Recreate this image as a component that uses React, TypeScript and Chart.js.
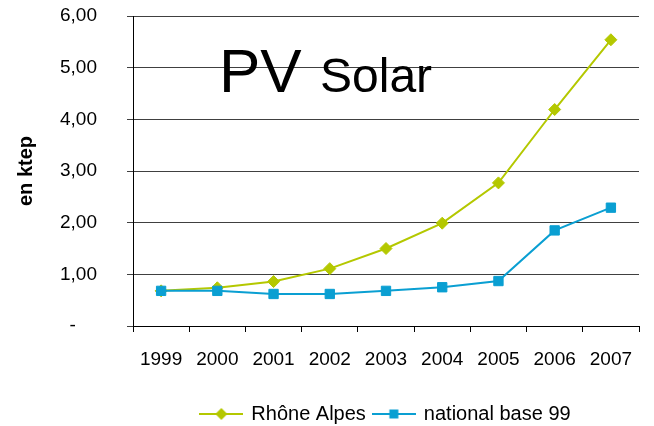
import React, { useEffect, useRef } from "react";
import { Chart, registerables } from "chart.js";

Chart.register(...registerables);

const years = ["1999", "2000", "2001", "2002", "2003", "2004", "2005", "2006", "2007"];
const rhoneAlpes = [0.68, 0.74, 0.86, 1.11, 1.5, 1.99, 2.77, 4.19, 5.54];
const nationalBase99 = [0.68, 0.68, 0.62, 0.62, 0.68, 0.75, 0.87, 1.85, 2.29];
const seriesNames = ["Rhône Alpes", "national base 99"];
const titleBig = "PV";
const titleSmall = "Solar";
const yTitle = "en ktep";

const GREEN = "#b4c800";
const BLUE = "#0a9fd2";
const FONT = '"Liberation Sans", Arial, sans-serif';

function makeIcon(color: string, style: "diamond" | "square") {
  const c = document.createElement("canvas");
  c.width = 44;
  c.height = 14;
  const ctx = c.getContext("2d")!;
  ctx.strokeStyle = color;
  ctx.lineWidth = 2;
  ctx.beginPath();
  ctx.moveTo(0, 7);
  ctx.lineTo(44, 7);
  ctx.stroke();
  ctx.fillStyle = color;
  ctx.beginPath();
  if (style === "diamond") {
    ctx.moveTo(22, 1);
    ctx.lineTo(28, 7);
    ctx.lineTo(22, 13);
    ctx.lineTo(16, 7);
    ctx.closePath();
  } else {
    ctx.rect(17.5, 2.5, 9, 9);
  }
  ctx.fill();
  return c;
}

const titlePlugin = {
  id: "pvTitle",
  afterDraw(chart: any) {
    const ctx = chart.ctx;
    ctx.save();
    ctx.fillStyle = "#000";
    ctx.textBaseline = "alphabetic";
    ctx.textAlign = "left";
    ctx.font = `62px ${FONT}`;
    ctx.fillText(titleBig, 219, 92);
    ctx.font = `48px ${FONT}`;
    ctx.fillText(titleSmall, 320, 92);
    ctx.restore();
  },
};

export default function App() {
  const ref = useRef<HTMLCanvasElement>(null);

  useEffect(() => {
    if (!ref.current) return;
    const icons = [makeIcon(GREEN, "diamond"), makeIcon(BLUE, "square")];
    const chart = new Chart(ref.current, {
      type: "line",
      data: {
        labels: years,
        datasets: [
          {
            label: seriesNames[0],
            data: rhoneAlpes,
            borderColor: GREEN,
            backgroundColor: GREEN,
            borderWidth: 2,
            pointStyle: "rectRot",
            pointRadius: 6,
            pointBorderWidth: 1,
            tension: 0,
            order: 1,
          },
          {
            label: seriesNames[1],
            data: nationalBase99,
            borderColor: BLUE,
            backgroundColor: BLUE,
            borderWidth: 2,
            pointStyle: "rect",
            pointRadius: 6.6,
            pointBorderWidth: 1,
            tension: 0,
            order: 0,
          },
        ],
      },
      options: {
        responsive: false,
        animation: false,
        layout: { padding: { top: 16, right: 15, left: 0, bottom: -8 } },
        plugins: {
          tooltip: { enabled: false },
          legend: {
            position: "bottom",
            fullSize: false,
            labels: {
              usePointStyle: true,
              pointStyleWidth: 40,
              padding: 8,
              color: "#000",
              font: { family: FONT, size: 20 },
              sort: (a: any, b: any) => a.datasetIndex - b.datasetIndex,
              generateLabels: (ch: any) => {
                const items = Chart.defaults.plugins.legend.labels.generateLabels(ch);
                return items.map((it: any) => ({ ...it, pointStyle: icons[it.datasetIndex] }));
              },
            },
          },
        },
        scales: {
          x: {
            offset: true,
            afterFit: (s: any) => {
              s.height = 70;
              s.paddingLeft = 0;
              s.paddingRight = 0;
            },
            grid: {
              offset: true,
              drawOnChartArea: false,
              drawTicks: true,
              tickLength: 6,
              color: "#000",
            },
            border: { display: true, color: "#000", width: 1 },
            ticks: {
              color: "#000",
              padding: 16,
              maxRotation: 0,
              font: { family: FONT, size: 19 },
            },
          },
          y: {
            min: 0,
            max: 6,
            afterFit: (s: any) => {
              s.width = 133;
              s.paddingTop = 10;
              s.paddingBottom = 10;
            },
            grid: {
              color: "#404040",
              lineWidth: 1,
              drawTicks: true,
              tickLength: 6,
            },
            border: { display: true, color: "#000", width: 1 },
            ticks: {
              stepSize: 1,
              color: "#000",
              padding: 30,
              font: { family: FONT, size: 19 },
              callback: (v: any) => (Number(v) === 0 ? "-    " : Number(v).toFixed(2).replace(".", ",")),
            },
            title: {
              display: true,
              text: yTitle,
              color: "#000",
              padding: { top: 14, bottom: 0 },
              font: { family: FONT, size: 20, weight: "bold" },
            },
          },
        },
      },
      plugins: [titlePlugin],
    });
    return () => chart.destroy();
  }, []);

  return (
    <div style={{ position: "fixed", left: 0, top: 0, width: 654, height: 426, background: "#fff" }}>
      <canvas ref={ref} width={654} height={426} />
    </div>
  );
}
